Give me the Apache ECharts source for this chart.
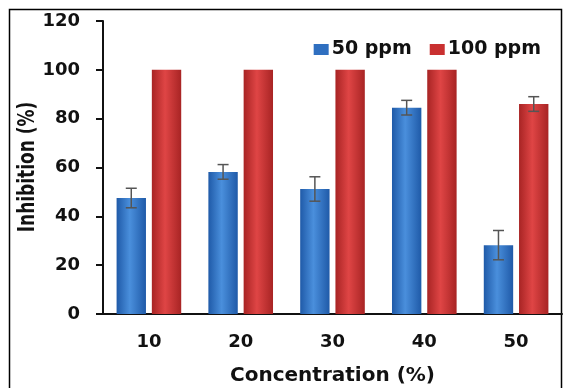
<!DOCTYPE html>
<html>
<head>
<meta charset="utf-8">
<script src="https://cdn.jsdelivr.net/npm/echarts@6/dist/echarts.min.js"></script>
<style>
  html, body { margin: 0; padding: 0; background: #fff; }
  #chart { width: 568px; height: 388px; }
</style>
</head>
<body>
<div id="chart"></div>
<script>
// data
var categories = ['10', '20', '30', '40', '50'];
var seriesNames = ['50 ppm', '100 ppm'];
var values50 = [47.5, 58.2, 51.2, 84.5, 28.2];
var errors50 = [4, 3, 5, 3, 6];
var values100 = [100, 100, 100, 100, 86];
var errors100 = [0, 0, 0, 0, 3];
var yTicks = [0, 20, 40, 60, 80, 100, 120];

var FONT = '"DejaVu Sans", "Liberation Sans", sans-serif';
var BAR_W = 0.32, BAR_GAP = 0.2;

var chart = echarts.init(document.getElementById('chart'));

function barGradient(dark, light) {
  return new echarts.graphic.LinearGradient(0, 0, 1, 0, [
    { offset: 0, color: dark },
    { offset: 0.45, color: light },
    { offset: 1, color: dark }
  ]);
}

// error bars drawn on top of the grouped bars; side = -1 left bar, +1 right bar
function errorSeries(values, errors, side) {
  var data = values.map(function (v, i) { return [i, v - errors[i], v + errors[i], errors[i]]; });
  return {
    type: 'custom',
    z: 10,
    silent: true,
    data: data,
    encode: { x: 0, y: [1, 2] },
    renderItem: function (params, api) {
      if (api.value(3) === 0) return null;
      var band = api.size([1, 0])[0];
      var offset = side * band * BAR_W * (1 + BAR_GAP) / 2;
      var lo = api.coord([api.value(0), api.value(1)]);
      var hi = api.coord([api.value(0), api.value(2)]);
      var x = lo[0] + offset, cap = 5.5;
      var style = { stroke: '#555', lineWidth: 1.5 };
      return {
        type: 'group',
        children: [
          { type: 'line', shape: { x1: x, y1: lo[1], x2: x, y2: hi[1] }, style: style },
          { type: 'line', shape: { x1: x - cap, y1: lo[1], x2: x + cap, y2: lo[1] }, style: style },
          { type: 'line', shape: { x1: x - cap, y1: hi[1], x2: x + cap, y2: hi[1] }, style: style }
        ]
      };
    }
  };
}

var option = {
  animation: false,
  textStyle: { fontFamily: FONT },
  graphic: [
    {
      type: 'rect',
      shape: { x: 9.5, y: 9.5, width: 552, height: 400 },
      style: { fill: 'none', stroke: '#000', lineWidth: 1.5 },
      silent: true
    },
    {
      // y axis title, a bit wider than tall like the source
      type: 'text',
      x: 28,
      y: 167,
      rotation: Math.PI / 2,
      scaleY: 1.3,
      style: {
        text: 'Inhibition (%)',
        font: 'bold 17px ' + FONT,
        fill: '#111',
        align: 'center',
        verticalAlign: 'middle'
      },
      silent: true
    }
  ],
  legend: {
    right: 22,
    top: 35,
    itemWidth: 15,
    itemHeight: 11,
    itemGap: 18,
    textStyle: { fontFamily: FONT, fontWeight: 'bold', fontSize: 19, color: '#111', padding: [0, 0, 0, -2] },
    data: [
      { name: seriesNames[0], icon: 'rect', itemStyle: { color: '#2f6fc0' } },
      { name: seriesNames[1], icon: 'rect', itemStyle: { color: '#c93030' } }
    ]
  },
  grid: { left: 103, right: 6, top: 21, bottom: 74, containLabel: false, outerBoundsMode: 'none' },
  xAxis: {
    type: 'category',
    data: categories,
    name: 'Concentration (%)',
    nameLocation: 'middle',
    nameGap: 52,
    nameTextStyle: { fontFamily: FONT, fontWeight: 'bold', fontSize: 20, color: '#111' },
    axisLine: { lineStyle: { color: '#111', width: 2 } },
    axisTick: { alignWithLabel: false, length: 5, lineStyle: { color: '#111', width: 2 } },
    axisLabel: { fontFamily: FONT, fontWeight: 'bold', fontSize: 18, color: '#111', margin: 19 }
  },
  yAxis: {
    type: 'value',
    min: yTicks[0],
    max: yTicks[yTicks.length - 1],
    interval: yTicks[1] - yTicks[0],
    axisLine: { show: true, lineStyle: { color: '#111', width: 2 } },
    axisTick: { show: true, length: 7, lineStyle: { color: '#111', width: 2 } },
    axisLabel: { fontFamily: FONT, fontWeight: 'bold', fontSize: 18, color: '#111', margin: 23 },
    splitLine: { show: false }
  },
  series: [
    {
      name: seriesNames[0],
      type: 'bar',
      data: values50,
      barWidth: (BAR_W * 100) + '%',
      barGap: (BAR_GAP * 100) + '%',
      itemStyle: { color: barGradient('#1f5aa8', '#4a8fdc') }
    },
    {
      name: seriesNames[1],
      type: 'bar',
      data: values100,
      barWidth: (BAR_W * 100) + '%',
      barGap: (BAR_GAP * 100) + '%',
      itemStyle: { color: barGradient('#a82424', '#df4545') }
    },
    errorSeries(values50, errors50, -1),
    errorSeries(values100, errors100, 1)
  ]
};

chart.setOption(option);
window.addEventListener('resize', function () { chart.resize(); });
</script>
</body>
</html>
